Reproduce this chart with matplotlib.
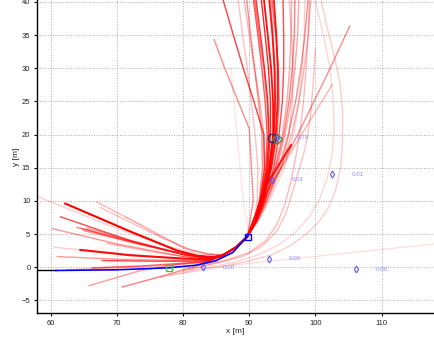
import numpy as np
import matplotlib
matplotlib.use('Agg')
import matplotlib.pyplot as plt

plt.rcParams['font.family'] = ['Liberation Sans', 'DejaVu Sans']

# ego path (history + planned), in metres
hist_x = [57.9, 60.8]
hist_y = [-0.5, -0.5]
path_x = [60.8, 70.0, 77.8, 82.0, 85.0, 87.5, 89.7]
path_y = [-0.5, -0.4, -0.1, 0.3, 1.0, 2.2, 4.6]

start_pt = (77.9, -0.1)
now_pt = (89.8, 4.5)
goal_circle = (93.5, 19.5)
goal_diamond = (94.2, 19.4)

# candidate targets with their probabilities
target_x = [94.2, 93.4, 102.5, 93.0, 83.0, 106.1]
target_y = [19.5, 13.2, 14.0, 1.3, 0.0, -0.3]
target_p = ['0.79', '0.01', '0.01', '0.00', '0.00', '0.00']

# predicted trajectories heading back left (each joins the common tail)
tail_x = [86.0, 88.0, 89.7]
tail_y = [1.8, 3.0, 4.6]
left_x = [
    [62.2, 72.0, 79.1, 82.2, 85.0],
    [67.0, 74.0, 80.1, 83.5],
    [61.5, 72.0, 80.6, 84.0],
    [64.8, 73.0, 80.0, 84.0],
    [65.0, 74.0, 81.0, 84.0],
    [60.3, 70.0, 80.0, 84.0],
    [60.5, 70.0, 80.0, 84.0],
    [64.5, 72.0, 80.0, 84.0],
    [61.0, 70.0, 80.0, 84.0],
    [67.8, 75.0, 81.0, 84.0],
    [66.3, 74.0, 80.0, 84.0],
    [65.8, 73.6, 79.0, 83.0],
    [70.8, 78.1, 82.0, 85.0],
    [56.0, 68.0, 77.0, 82.5],
    [67.5, 75.0, 81.0, 84.0],
    [64.0, 72.0, 80.0, 84.0],
    [71.5, 77.0, 82.0, 84.5],
    [68.5, 76.0, 81.0, 84.0],
    [62.5, 70.0, 78.0, 83.0],
    [65.5, 73.0, 80.5, 84.0],
]
left_y = [
    [9.6, 5.4, 2.5, 1.7, 1.5],
    [9.8, 6.2, 2.9, 2.0],
    [7.6, 4.0, 1.8, 1.4],
    [5.8, 3.6, 2.0, 1.5],
    [5.5, 3.3, 1.7, 1.4],
    [5.8, 3.5, 1.6, 1.3],
    [3.0, 2.1, 1.2, 1.1],
    [2.6, 1.8, 1.3, 1.2],
    [1.6, 1.2, 1.0, 1.1],
    [1.0, 0.9, 0.9, 1.0],
    [-0.1, 0.2, 0.6, 0.9],
    [-2.8, -0.5, 0.4, 0.8],
    [-3.0, -1.0, 0.2, 0.9],
    [11.5, 6.6, 3.3, 1.9],
    [9.0, 5.3, 2.6, 2.0],
    [6.0, 3.9, 1.9, 1.5],
    [7.5, 4.3, 2.4, 1.9],
    [3.6, 2.2, 1.5, 1.3],
    [-0.4, -0.1, 0.3, 0.7],
    [5.9, 3.8, 1.8, 1.4],
]
left_w = [1.0, 0.3, 0.7, 0.45, 0.4, 0.4, 0.2, 0.95, 0.4, 0.75,
          0.6, 0.4, 0.5, 0.2, 0.25, 0.5, 0.15, 0.3, 0.35, 0.4]

# predicted trajectories heading up: x read at these y levels
up_y = [4.6, 7.0, 10.0, 15.0, 20.0, 25.0, 30.0, 35.0, 40.5]
up_x = [
    [89.7, 91.0, 92.0, 93.0, 93.6, 93.6, 93.3, 92.8, 92.2],
    [89.7, 91.0, 92.1, 93.3, 94.0, 94.3, 94.3, 94.1, 93.7],
    [89.7, 90.9, 91.8, 92.7, 93.0, 92.8, 92.3, 91.7, 91.0],
    [89.7, 91.1, 92.3, 93.7, 94.5, 95.0, 95.2, 95.2, 95.1],
    [89.7, 90.9, 91.7, 92.5, 92.7, 92.4, 91.9, 91.3, 90.6],
    [89.7, 91.1, 92.4, 94.0, 95.2, 96.0, 96.5, 96.8, 96.9],
    [89.7, 91.2, 92.6, 94.5, 95.9, 97.0, 97.8, 98.4, 98.9],
    [89.7, 90.8, 91.5, 92.0, 91.9, 91.4, 90.8, 90.2, 89.6],
    [89.7, 90.8, 91.6, 92.3, 92.2, 90.7, 89.1, 87.6, 86.0],
    [89.7, 91.0, 92.1, 93.4, 94.2, 94.5, 94.4, 94.0, 93.4],
    [89.7, 91.1, 92.3, 93.9, 95.0, 95.7, 96.1, 96.3, 96.4],
    [89.7, 91.2, 92.6, 94.8, 96.4, 97.5, 98.3, 98.9, 99.3],
    [89.7, 91.0, 92.0, 93.2, 93.8, 94.0, 93.9, 93.6, 93.2],
    [89.7, 90.7, 91.2, 91.3, 90.9, 90.3, 89.7, 89.0, 88.3],
    [89.7, 91.3, 92.8, 94.8, 96.0, 96.5, 96.6, 96.4, 96.0],
    [89.7, 91.1, 92.4, 94.2, 95.4, 96.3, 96.9, 97.3, 97.5],
    [89.7, 91.4, 93.0, 95.3, 96.7, 97.5, 98.0, 98.3, 98.4],
    [89.7, 91.0, 92.0, 93.1, 93.7, 93.9, 93.8, 93.5, 93.0],
    [89.7, 90.9, 91.9, 92.8, 93.2, 93.2, 92.9, 92.4, 91.8],
    [89.7, 90.9, 91.8, 92.6, 92.9, 92.7, 92.2, 91.5, 90.8],
    [89.7, 90.9, 91.7, 92.3, 92.2, 91.6, 90.8, 90.0, 89.2],
]
up_w = [0.95, 0.9, 0.8, 0.7, 0.65, 0.5, 0.45, 0.45, 0.75, 0.6,
        0.35, 0.3, 0.45, 0.25, 0.25, 0.35, 0.2, 0.9, 0.85, 0.55, 0.3]

# remaining trajectories (straight spokes, wide arcs, faint strays)
other_x = [
    [89.7, 90.6, 90.0, 86.3, 84.7],
    [89.7, 91.8, 94.8, 97.8, 101.5, 105.2],
    [89.7, 92.0, 95.5, 98.5, 102.5],
    [89.7, 91.0, 91.8, 92.6, 96.3],
    [76.6, 80.0, 83.7, 87.0, 90.2, 93.5, 96.3, 98.6, 100.3, 101.8, 103.0,
     103.8, 104.1, 104.1, 103.7, 102.8, 101.8, 100.8],
    [78.0, 84.0, 88.0, 91.5, 94.5, 97.0, 99.0, 100.6, 101.8, 102.5, 102.8,
     102.7, 102.2, 101.2, 99.9],
    [80.0, 85.0, 89.0, 92.0, 94.2, 95.5, 96.3, 97.3, 98.2, 98.8, 99.3,
     99.6, 100.0],
    [81.0, 86.0, 90.0, 92.5, 94.2, 95.4, 96.3, 97.0, 97.6, 98.2, 98.6,
     98.9, 99.1],
    [82.7, 117.9],
    [89.2, 90.0, 89.2, 88.7, 87.2],
]
other_y = [
    [4.6, 10.0, 20.9, 30.0, 34.3],
    [4.6, 10.0, 15.0, 21.0, 28.5, 36.4],
    [4.6, 10.0, 16.0, 21.0, 27.5],
    [4.6, 8.0, 10.5, 12.4, 18.4],
    [-1.5, -0.9, -0.3, 0.3, 1.0, 1.9, 3.3, 5.0, 6.6, 8.7, 11.5,
     15.0, 19.2, 23.5, 27.7, 32.0, 36.0, 40.5],
    [-1.2, 0.0, 0.8, 1.9, 3.4, 5.3, 7.5, 10.2, 13.5, 17.0, 20.5,
     25.0, 30.0, 35.0, 40.5],
    [-0.6, 0.6, 1.6, 3.2, 5.5, 8.0, 10.5, 14.0, 17.0, 19.7, 23.5,
     27.0, 33.0],
    [-0.3, 0.9, 2.2, 4.0, 6.5, 9.5, 13.0, 16.5, 20.0, 25.0, 30.0,
     35.0, 40.5],
    [-0.2, 3.5],
    [3.6, 5.0, 9.0, 14.1, 30.2],
]
other_w = [0.45, 0.45, 0.3, 0.9, 0.2, 0.16, 0.25, 0.28, 0.12, 0.1]

fig = plt.figure(figsize=(4.34, 3.39), dpi=100)
ax = fig.add_axes([36.7 / 434, 25.7 / 339, 397.3 / 434, 313.3 / 339])

for xs, ys, w in zip(left_x, left_y, left_w):
    ax.plot(xs + tail_x, ys + tail_y, color='red', alpha=w,
            lw=1.5 if w > 0.9 else 1.0, solid_joinstyle='round')
for xs, w in zip(up_x, up_w):
    ax.plot(xs, up_y, color='red', alpha=w,
            lw=1.3 if w > 0.85 else 1.0, solid_joinstyle='round')
for xs, ys, w in zip(other_x, other_y, other_w):
    ax.plot(xs, ys, color='red', alpha=w,
            lw=1.5 if w > 0.85 else 1.0, solid_joinstyle='round')

ax.plot(hist_x, hist_y, color='black', lw=1.0)
ax.plot(path_x, path_y, color='blue', lw=1.2, solid_joinstyle='round')

ax.plot(*start_pt, 's', ms=4, mfc='none', mec=(0.2, 0.8, 0.2), mew=1.0)
ax.plot(*now_pt, 's', ms=4, mfc='none', mec='blue', mew=1.0)
ax.plot(*goal_circle, 'o', ms=6, mfc='none', mec=(0.15, 0.15, 0.45), mew=1.0)
ax.plot(*goal_diamond, 'D', ms=5, mfc='none', mec=(0.2, 0.55, 0.2), mew=0.9)

for tx, ty, tp in zip(target_x, target_y, target_p):
    ax.plot(tx, ty, 'd', ms=3.5, mfc='none', mec=(0.35, 0.35, 1.0), mew=0.8)
    ax.text(tx + 3.0, ty, tp, fontsize=4.5, color=(0.55, 0.55, 1.0),
            va='center', ha='left')

ax.set_xlim(57.9, 117.9)
ax.set_ylim(-6.96, 40.3)
ax.set_xticks(np.arange(60, 111, 10))
ax.set_yticks(np.arange(-5, 41, 5))
ax.grid(True, linestyle=':', color='#aaaaaa', lw=0.7)
ax.set_axisbelow(True)
for s in ['top', 'right']:
    ax.spines[s].set_visible(False)
for s in ['left', 'bottom']:
    ax.spines[s].set_linewidth(1.0)
ax.tick_params(labelsize=5.5, length=2.5, width=0.8, pad=2, labelcolor='#222222')
ax.set_xlabel('x [m]', fontsize=6, labelpad=1, color='#222222')
ax.set_ylabel('y [m]', fontsize=6, labelpad=1, color='#222222')

fig.savefig('out.png', dpi=100)
